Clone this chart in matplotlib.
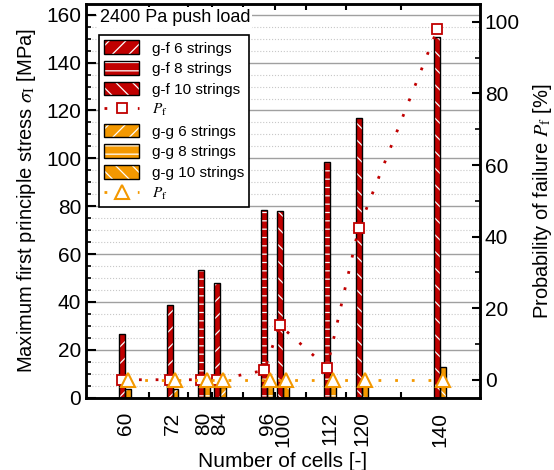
import numpy as np
import matplotlib
matplotlib.use('Agg')
import matplotlib.pyplot as plt
from matplotlib.patches import Patch
from matplotlib.lines import Line2D

plt.rcParams['font.family'] = ['Liberation Sans', 'DejaVu Sans']
plt.rcParams['mathtext.fontset'] = 'stix'
plt.rcParams['hatch.linewidth'] = 0.9

# data
cells = [60, 72, 80, 84, 96, 100, 112, 120, 140]
strings = [6, 6, 8, 6, 8, 10, 8, 10, 10]
gf_stress = [26.5, 38.5, 53.5, 48.0, 78.5, 78.0, 98.5, 117.0, 150.5]
gg_stress = [3.6, 3.6, 6.5, 4.5, 7.0, 7.0, 7.0, 7.0, 12.7]
gf_pf = [0, 0, 0, 0, 2.6, 15.2, 3.4, 42.3, 98.0]
gg_pf = [0, 0, 0, 0, 0, 0, 0, 0, 0]

red = '#C00000'
orange = '#F39800'
hatches = {6: '//', 8: '--', 10: '\\\\'}
w = 1.5

fig = plt.figure(figsize=(5.54, 4.70), dpi=100)
ax1 = fig.add_axes([0.155, 0.154, 0.711, 0.8375])
ax2 = ax1.twinx()

x = np.array(cells, dtype=float)
for xi, s, hf, hg in zip(x, strings, gf_stress, gg_stress):
    # hatch drawn in white, outline drawn on top in black
    ax1.bar(xi - w/2, hf, w, color=red, edgecolor='white', lw=0, hatch=hatches[s], zorder=2)
    ax1.bar(xi - w/2, hf, w, fill=False, edgecolor='black', lw=1, zorder=3)
    ax1.bar(xi + w/2, hg, w, color=orange, edgecolor='white', lw=0, hatch=hatches[s], zorder=2)
    ax1.bar(xi + w/2, hg, w, fill=False, edgecolor='black', lw=1, zorder=3)

ax2.plot(x - w/2, gf_pf, color=red, ls=(0, (1, 5)), lw=2, marker='s', ms=7.5,
         mfc='white', mec=red, mew=1.3, zorder=4)
ax2.plot(x + w/2, gg_pf, color=orange, ls=(0, (1, 5)), lw=2, marker='^', ms=10.5,
         mfc='white', mec=orange, mew=1.5, zorder=4)

ax1.set_xlim(50, 150)
ax1.set_ylim(0, 164.5)
ax2.set_ylim(-5, 105)

ax1.set_xticks(cells)
ax1.set_xticklabels([str(c) for c in cells], rotation=90, fontsize=15)
mids = [(a + b) / 2 for a, b in zip(cells[:-1], cells[1:])]
ax1.set_xticks(mids, minor=True)
ax1.tick_params(axis='x', which='major', length=0, pad=10)
ax1.tick_params(axis='x', which='minor', direction='in', length=4, width=1.5, top=True, bottom=True)

ax1.set_yticks(np.arange(0, 161, 20))
ax1.set_yticks(np.arange(0, 165, 5), minor=True)
ax1.tick_params(axis='y', which='major', direction='in', length=7, width=1.5, labelsize=15)
ax1.tick_params(axis='y', which='minor', direction='in', length=3.5, width=1.2)

ax2.set_yticks(np.arange(0, 101, 20))
ax2.set_yticks(np.arange(0, 101, 10), minor=True)
ax2.tick_params(axis='y', which='major', direction='in', length=6, width=1.5, labelsize=15)
ax2.tick_params(axis='y', which='minor', direction='in', length=3.5, width=1.2)

ax1.set_axisbelow(True)
ax1.grid(True, which='major', axis='y', color='#a0a0a0', lw=1, ls='-')
ax1.grid(True, which='minor', axis='y', color='#c8c8c8', lw=0.8, ls=':')

for ax in (ax1, ax2):
    for sp in ax.spines.values():
        sp.set_linewidth(1.8)

ax1.set_xlabel('Number of cells [-]', fontsize=15, labelpad=4)
ax1.set_ylabel(r'Maximum first principle stress $\sigma_\mathrm{I}$ [MPa]', fontsize=14.5, labelpad=6)
ax2.set_ylabel(r'Probability of failure $P_\mathrm{f}$ [%]', fontsize=14.5, labelpad=8)

ax2.text(0.035, 0.966, '2400 Pa push load', transform=ax2.transAxes, fontsize=13,
         ha='left', va='center', bbox=dict(facecolor='white', edgecolor='none', pad=1.5), zorder=6)

def bar_handle(color, h):
    return (Patch(facecolor=color, edgecolor='white', lw=0, hatch=h),
            Patch(fill=False, edgecolor='black', lw=1))

handles = [bar_handle(red, '//'), bar_handle(red, '--'), bar_handle(red, '\\\\'),
           Line2D([], [], color=red, ls=(0, (1, 5)), lw=2, marker='s', ms=7.5, mfc='white', mec=red, mew=1.3),
           bar_handle(orange, '//'), bar_handle(orange, '--'), bar_handle(orange, '\\\\'),
           Line2D([], [], color=orange, ls=(0, (1, 5)), lw=2, marker='^', ms=10.5, mfc='white', mec=orange, mew=1.5)]
labels = ['g-f 6 strings', 'g-f 8 strings', 'g-f 10 strings', r'$P_\mathrm{f}$',
          'g-g 6 strings', 'g-g 8 strings', 'g-g 10 strings', r'$P_\mathrm{f}$']
leg = ax2.legend(handles, labels, loc='upper left', bbox_to_anchor=(0.033, 0.921),
                 borderaxespad=0, fontsize=11, fancybox=False, edgecolor='black', framealpha=1,
                 handlelength=2.3, handleheight=1.0, labelspacing=0.36, handletextpad=0.8,
                 borderpad=0.35)
leg.get_frame().set_linewidth(1.2)
leg.set_zorder(7)

fig.savefig('out.png', dpi=100)
